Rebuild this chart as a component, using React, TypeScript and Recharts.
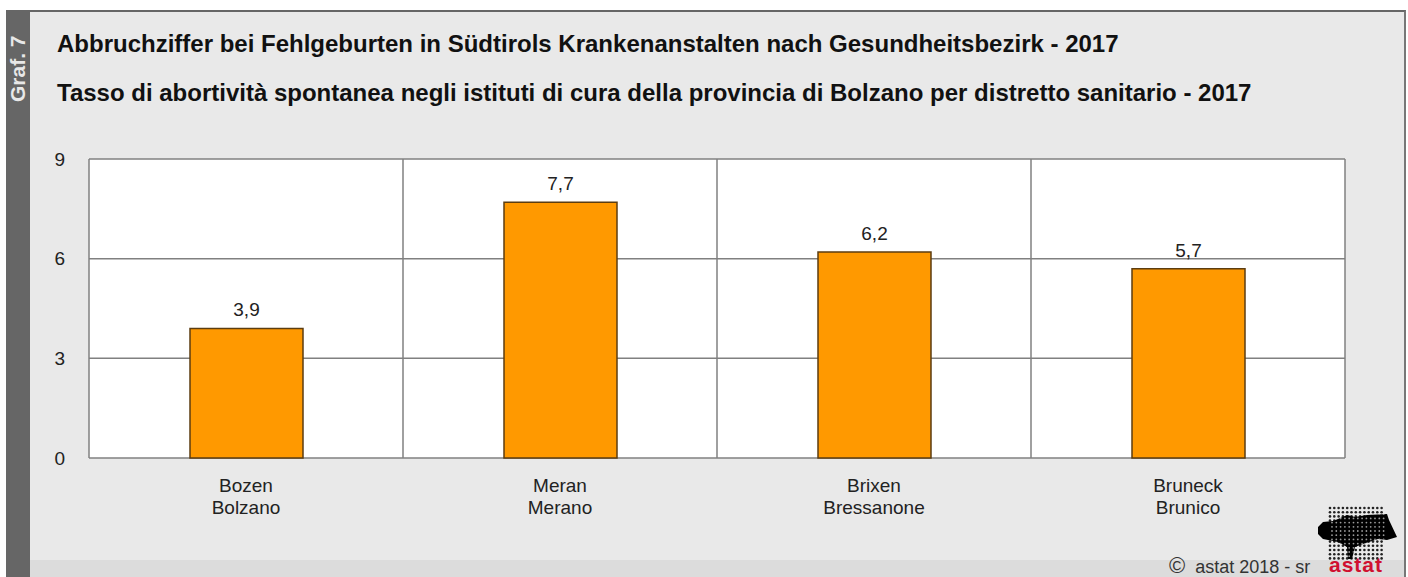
import { Bar, BarChart, CartesianGrid, LabelList, XAxis, YAxis } from 'recharts'

const germanNames = ['Bozen', 'Meran', 'Brixen', 'Bruneck']
const italianNames = ['Bolzano', 'Merano', 'Bressanone', 'Brunico']
const rates = [3.9, 7.7, 6.2, 5.7]
const yTicks = [0, 3, 6, 9]
const titleDe = 'Abbruchziffer bei Fehlgeburten in Südtirols Krankenanstalten nach Gesundheitsbezirk - 2017'
const titleIt = 'Tasso di abortività spontanea negli istituti di cura della provincia di Bolzano per distretto sanitario - 2017'

const rows = germanNames.map((name, i) => ({ name, it: italianNames[i], rate: rates[i] }))
const font = '"Liberation Sans", Arial, sans-serif'
const blob = 'M1318 527 L1323 522 L1333 521 L1338 519 L1347 515 L1355 517 L1367 515 L1387 514 L1389 520 L1397 537 L1387 540 L1378 539 L1363 544 L1355 547 L1352 559 L1348 559 L1347 547 L1338 542 L1323 539 L1318 534 Z'

function DistrictTick({ x, y, payload }: any) {
  return (
    <text x={x} y={y} textAnchor="middle" fontFamily={font} fontSize={19} fill="#222">
      <tspan x={x} dy={0}>{payload.value}</tspan>
      <tspan x={x} dy={22}>{italianNames[payload.index]}</tspan>
    </text>
  )
}

function Logo() {
  const dots = []
  const gaps = []
  for (let r = 0; r < 13; r++) {
    for (let c = 0; c < 13; c++) {
      dots.push(<circle key={`${r}-${c}`} cx={1330 + c * 4.3} cy={508 + r * 4.2} r={1.3} fill="#222" />)
      gaps.push(<circle key={`g${r}-${c}`} cx={1332 + c * 4.3} cy={510 + r * 4.2} r={0.9} fill="#999" />)
    }
  }
  return (
    <svg width={1408} height={577} style={{ position: 'absolute', left: 0, top: 0, pointerEvents: 'none' }}>
      <defs>
        <clipPath id="logo-clip"><path d={blob} /></clipPath>
      </defs>
      {dots}
      <path d={blob} fill="#000" />
      <g clipPath="url(#logo-clip)">{gaps}</g>
      <text x={1329} y={572} fontFamily={font} fontSize={21} fontWeight="bold" fill="#d01030" textLength={53}>astat</text>
    </svg>
  )
}

export default function App() {
  return (
    <div style={{ position: 'absolute', left: 0, top: 0, width: 1408, height: 577, overflow: 'hidden', background: '#fff', fontFamily: font }}>
      <div style={{ position: 'absolute', left: 6, top: 10, width: 24, height: 567, background: '#666' }} />
      <div style={{ position: 'absolute', left: 30, top: 10, width: 1376, height: 567, background: '#e9e9e9', borderTop: '2px solid #666', borderRight: '2px solid #777', boxSizing: 'border-box' }} />
      <div style={{ position: 'absolute', left: 30, top: 560, width: 1374, height: 17, background: '#dcdcdc' }} />
      <div style={{ position: 'absolute', left: 6, top: 102, transform: 'rotate(-90deg)', transformOrigin: 'left top', color: '#e8e8e8', fontWeight: 'bold', fontSize: 21, lineHeight: '24px', whiteSpace: 'nowrap' }}>Graf. 7</div>
      <div style={{ position: 'absolute', left: 57, top: 30, fontSize: 24, fontWeight: 'bold', color: '#111', whiteSpace: 'nowrap' }}>{titleDe}</div>
      <div style={{ position: 'absolute', left: 57, top: 79, fontSize: 24, fontWeight: 'bold', color: '#111', whiteSpace: 'nowrap' }}>{titleIt}</div>
      <div style={{ position: 'absolute', left: 1169, top: 556, fontSize: 18, color: '#333', whiteSpace: 'nowrap' }}>
        <span style={{ fontSize: 22, lineHeight: '20px' }}>©</span>
        <span style={{ marginLeft: 10 }}>astat 2018 - sr</span>
      </div>
      <div style={{ position: 'absolute', left: 0, top: 0 }}>
        <BarChart width={1408} height={577} data={rows} margin={{ top: 159, right: 63, bottom: 0, left: 30 }} barSize={113}>
          <CartesianGrid
            fill="#fff"
            stroke="#808080"
            strokeWidth={1.5}
            verticalCoordinatesGenerator={({ offset }: any) =>
              [0, 1, 2, 3, 4].map((i) => offset.left + (offset.width * i) / germanNames.length)
            }
          />
          <XAxis dataKey="name" height={119} axisLine={false} tickLine={false} tickMargin={28} interval={0} tick={<DistrictTick />} />
          <YAxis width={59} domain={[0, 9]} ticks={yTicks} axisLine={false} tickLine={false} tickMargin={18} tick={{ fontSize: 19, fill: '#222', fontFamily: font }} />
          <Bar dataKey="rate" fill="#ff9900" stroke="#5c3d10" strokeWidth={1.5} isAnimationActive={false}>
            <LabelList dataKey="rate" position="top" offset={12} fontSize={19} fill="#222" fontFamily={font} formatter={(v: any) => String(v).replace('.', ',')} />
          </Bar>
        </BarChart>
      </div>
      <Logo />
    </div>
  )
}
